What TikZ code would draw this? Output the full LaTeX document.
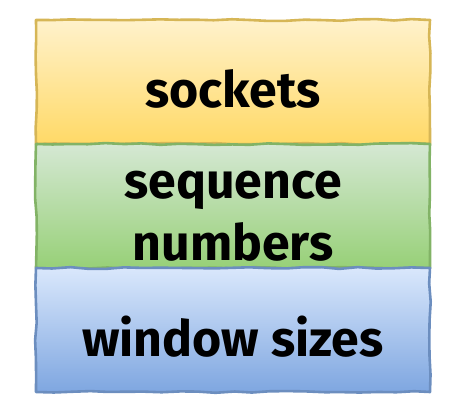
\documentclass[tikz,border=0pt]{standalone}
\usepackage{fontspec}
\setmainfont{Fira Sans}[UprightFont=* Bold]
\usetikzlibrary{decorations.pathmorphing}
\definecolor{ytop}{HTML}{FFF2CC}\definecolor{ybot}{HTML}{FFD966}\definecolor{ystr}{HTML}{D6B656}
\definecolor{gtop}{HTML}{D5E8D4}\definecolor{gbot}{HTML}{97D077}\definecolor{gstr}{HTML}{82B366}
\definecolor{btop}{HTML}{DAE8FC}\definecolor{bbot}{HTML}{7EA6E0}\definecolor{bstr}{HTML}{6C8EBF}
\tikzset{
  layer/.style={line width=2.6pt, decorate, decoration={random steps, segment length=18pt, amplitude=0.9pt}, line join=round},
  lbl/.style={font=\fontsize{50}{62}\selectfont, text=black, align=center}
}
\begin{document}
\begin{tikzpicture}[x=1pt,y=-1pt]
\pgfmathsetseed{7}
\useasboundingbox (0,0) rectangle (459,410);
\path[layer, top color=ytop, bottom color=ybot, draw=ystr] (36,20) rectangle (430,144);
\path[layer, top color=gtop, bottom color=gbot, draw=gstr] (36,144) rectangle (430,268);
\path[layer, top color=btop, bottom color=bbot, draw=bstr] (36,268) rectangle (430,392);
\node[lbl] (s) at (233,89) {sockets};
\node[lbl] (q) at (233,216) {sequence\\numbers};
\node[lbl] (w) at (233,337) {window sizes};
\end{tikzpicture}
\end{document}
